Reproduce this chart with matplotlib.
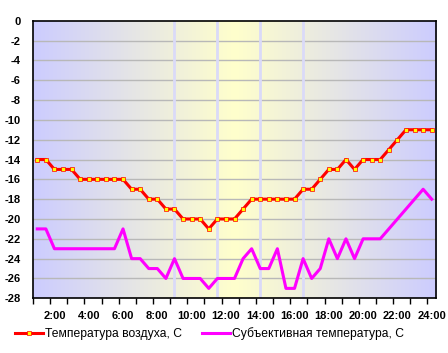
import matplotlib
matplotlib.use('Agg')
import matplotlib.pyplot as plt
import numpy as np

plt.rcParams['font.family'] = ['Liberation Sans', 'DejaVu Sans']

# half-hour readings, 1:00 .. 24:00
hours = np.arange(1.0, 24.01, 0.5)
air_temp = [-14, -14, -15, -15, -15, -16, -16, -16, -16, -16, -16, -17, -17, -18,
            -18, -19, -19, -20, -20, -20, -21, -20, -20, -20, -19, -18, -18, -18,
            -18, -18, -18, -17, -17, -16, -15, -15, -14, -15, -14, -14, -14, -13,
            -12, -11, -11, -11, -11]
feels_temp = [-21, -21, -23, -23, -23, -23, -23, -23, -23, -23, -21, -24, -24, -25,
              -25, -26, -24, -26, -26, -26, -27, -26, -26, -26, -24, -23, -25, -25,
              -23, -27, -27, -24, -26, -25, -22, -24, -22, -24, -22, -22, -22, -21,
              -20, -19, -18, -17, -18]
marks = [9.0, 11.5, 14.0, 16.5]
label_hours = list(range(2, 25, 2))
tick_labels = [f'{h}:00' for h in label_hours]

fig = plt.figure(figsize=(4.48, 3.53), dpi=100)
ax = fig.add_axes([33 / 448, 1 - 298.3 / 353, 403 / 448, 277.6 / 353])

# background gradient: blue at the edges, yellow in the middle
t = np.linspace(0, 1, 400)
w = 1 - np.abs(2 * t - 1)
blue = np.array([204, 204, 255]) / 255
yellow = np.array([255, 255, 204]) / 255
grad = blue[None, :] * (1 - w[:, None]) + yellow[None, :] * w[:, None]
ax.imshow(grad[None, :, :], extent=[0.75, 24.25, -28, 0], aspect='auto', zorder=0)

for y in range(-26, 0, 2):
    ax.axhline(y, color='#b8b8b8', lw=1.0, zorder=1)
for m in marks:
    ax.axvline(m, color='#dadaf8', lw=2.0, zorder=1)

ax.plot(hours, air_temp, color='#ff0000', lw=2.2, marker='s', markersize=2.2,
        markerfacecolor='#ffff00', markeredgecolor='#ff0000', markeredgewidth=0.5,
        label='Температура воздуха, С', zorder=3)
ax.plot(hours, feels_temp, color='#ff00ff', lw=2.2,
        label='Субъективная температура, С', zorder=3)

ax.set_xlim(0.75, 24.25)
ax.set_ylim(-28, 0)
ax.set_yticks(range(-28, 1, 2))
ax.set_yticklabels([str(v) for v in range(-28, 1, 2)], fontsize=8, fontweight='bold')
ax.tick_params(axis='y', length=0, pad=9)

ax.set_xticks(np.arange(0.75, 24.3, 1.0))
ax.set_xticklabels([])
ax.tick_params(axis='x', which='major', direction='out', length=4, width=1)
ax.set_xticks(label_hours, minor=True)
ax.set_xticklabels(tick_labels, minor=True, fontsize=8, fontweight='bold')
ax.tick_params(axis='x', which='minor', length=0, pad=9)

for s in ax.spines.values():
    s.set_color('black')
    s.set_linewidth(1.2)

fig.legend(loc='center', bbox_to_anchor=(0.468, 0.054), ncol=2, frameon=False,
           fontsize=8.7, handlelength=2.3, columnspacing=1.6, handletextpad=0.2)

fig.savefig('out.png', dpi=100)
